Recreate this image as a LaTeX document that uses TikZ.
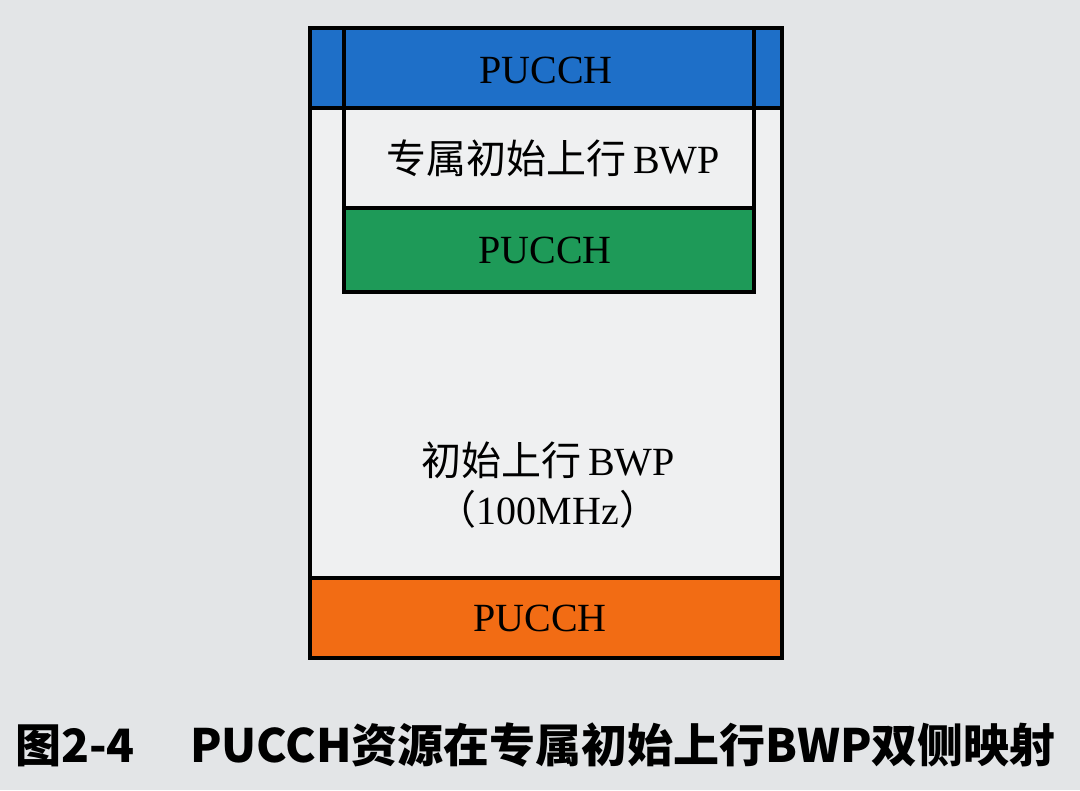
\documentclass[tikz,border=0pt]{standalone}
\usepackage{fontspec}
\setmainfont{Liberation Serif}
\newfontfamily\cjk{Noto Sans CJK SC}
\definecolor{paper}{HTML}{E3E5E7}
\definecolor{inside}{HTML}{EFF0F1}
\definecolor{pblue}{HTML}{1E6FC8}
\definecolor{pgreen}{HTML}{1E9A58}
\definecolor{porange}{HTML}{F26C14}
\tikzset{
  band/.style={draw=black, line width=2.7pt},
  frame/.style={draw=black, line width=2.7pt},
  lbl/.style={font=\fontsize{30}{32}\selectfont, text=black, inner sep=0pt},
  zh/.style={font=\fontsize{30}{37}\selectfont, text=black, inner sep=0pt, align=center},
  captext/.style={font=\cjk\bfseries\fontsize{34.5}{38}\selectfont, text=black, inner sep=0pt}
}
\begin{document}
\begin{tikzpicture}[x=0.75pt,y=-0.75pt]
\fill[paper] (0,0) rectangle (1080,790);
\useasboundingbox (0,0) rectangle (1080,790);
% outer initial BWP
\path[fill=inside] (310,28) rectangle (782,658);
% blue band
\path[band, fill=pblue] (310,28) rectangle (782,108);
% green band
\path[band, fill=pgreen] (344,208) rectangle (754,292);
% orange band
\path[band, fill=porange] (310,578) rectangle (782,658);
% dedicated BWP box
\path[frame] (344,28) rectangle (754,292);
% outer frame
\path[frame] (310,28) rectangle (782,658);
% labels
\node[lbl] (pb) at (546,70) {PUCCH};
\node[zh] (ded) at (553,158) {{\cjk 专属初始上行}\,BWP};
\node[lbl] (pg) at (545,250) {PUCCH};
\node[zh] (ini) at (548,485) {{\cjk 初始上行}\,BWP\\{\cjk （}100MHz{\cjk ）}};
\node[lbl] (po) at (540,618) {PUCCH};
\node[captext, anchor=west] (caption) at (15,745) {图2-4\hspace{1.2em}PUCCH资源在专属初始上行BWP双侧映射};
\end{tikzpicture}
\end{document}
